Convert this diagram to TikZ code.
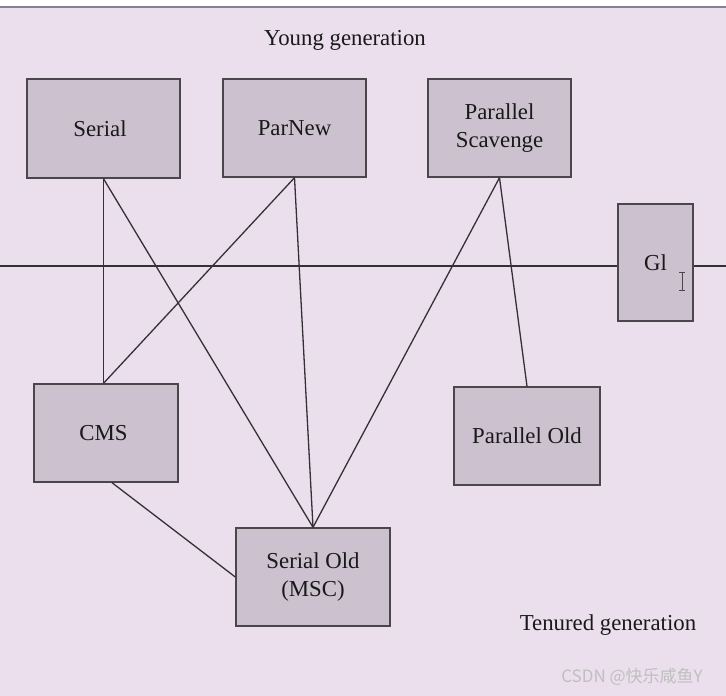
\documentclass[tikz,border=0pt]{standalone}
\usepackage{fontspec}
\setmainfont{Liberation Serif}
\newfontfamily\cjk{Noto Sans CJK SC}
\definecolor{bgl}{HTML}{EBDFEE}
\definecolor{boxf}{HTML}{CBC1CF}
\definecolor{boxd}{HTML}{4A464C}
\definecolor{linec}{HTML}{343036}
\definecolor{topl}{HTML}{8A7F8D}
\begin{document}
\begin{tikzpicture}[x=1pt,y=-1pt,
  gcbox/.style={draw=boxd,fill=boxf,line width=1.4pt,inner sep=0pt,align=center,
    font=\fontsize{22.8}{28}\selectfont,text=black!90},
  conn/.style={draw=linec,line width=1.3pt},
  lbl/.style={font=\fontsize{22.8}{28}\selectfont,text=black!90,inner sep=0pt}]
\useasboundingbox (0,0) rectangle (726,696);
\fill[white] (0,0) rectangle (726,696);
\fill[bgl] (0,7) rectangle (726,696);
\draw[topl,line width=1.2pt] (0,7) -- (726,7);

\node[lbl] (young) at (345,40) {Young generation};
\node[lbl] (tenured) at (608,625) {Tenured generation};

\node[gcbox,minimum width=153pt,minimum height=99pt] (serial) at (103.5,128.5) {Serial\hspace*{7pt}};
\node[gcbox,minimum width=143pt,minimum height=98pt] (parnew) at (294.5,128) {\raisebox{-5pt}{ParNew}};
\node[gcbox,minimum width=143pt,minimum height=98pt] (ps) at (499.5,128) {Parallel\\Scavenge};
\node[gcbox,minimum width=75pt,minimum height=117pt] (gi) at (655.5,262.5) {Gl};
\node[gcbox,minimum width=144pt,minimum height=98pt] (cms) at (106,433) {CMS\hspace*{5pt}};
\node[gcbox,minimum width=146pt,minimum height=98pt] (po) at (527,436) {Parallel Old};
\node[gcbox,minimum width=154pt,minimum height=98pt] (so) at (313,577) {Serial Old\\(MSC)};

\coordinate (lft) at (0,266);
\coordinate (rgt) at (726,266);
\draw[conn] (lft) -- (lft -| gi.west);
\draw[conn] (rgt -| gi.east) -- (rgt);

\draw[conn] (serial.south) -- (cms.north -| serial.south);
\draw[conn] (serial.south) -- (so.north);
\draw[conn] (parnew.south) -- (cms.north -| serial.south);
\draw[conn] (parnew.south) -- (so.north);
\draw[conn] (ps.south) -- (so.north);
\draw[conn] (ps.south) -- (po.north);
\draw[conn] ([xshift=6pt]cms.south) -- (so.west);

% text cursor
\coordinate (cur) at (682,281);
\draw[boxd,line width=1pt] ([yshift=-9pt]cur) -- ([yshift=9pt]cur)
  ([xshift=-3pt,yshift=-9pt]cur) -- ([xshift=3pt,yshift=-9pt]cur)
  ([xshift=-3pt,yshift=9pt]cur) -- ([xshift=3pt,yshift=9pt]cur);

\node[font=\cjk\fontsize{17}{20}\selectfont,text=white!50!gray,inner sep=0pt] (wm) at (632,677) {CSDN @快乐咸鱼Y};
\end{tikzpicture}
\end{document}
